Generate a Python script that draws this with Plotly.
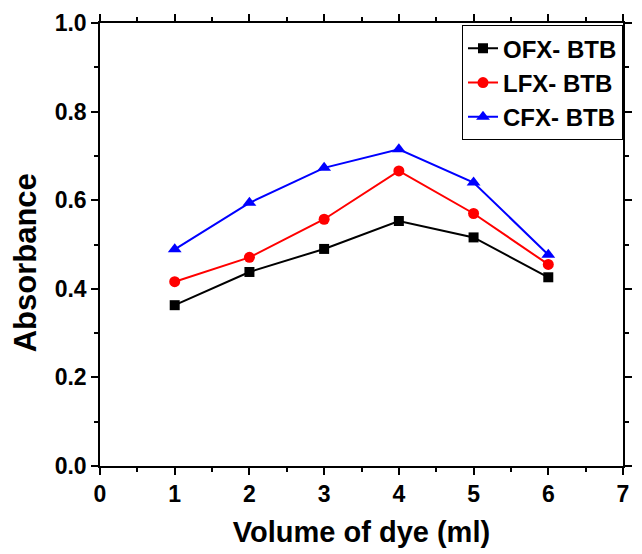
import plotly.graph_objects as go

volume = [1, 2, 3, 4, 5, 6]
ofx_btb = [0.363, 0.438, 0.490, 0.553, 0.516, 0.426]
lfx_btb = [0.416, 0.471, 0.557, 0.666, 0.570, 0.455]
cfx_btb = [0.489, 0.594, 0.673, 0.715, 0.640, 0.477]

series = [
    ("OFX- BTB", ofx_btb, "black", "square", 10),
    ("LFX- BTB", lfx_btb, "red", "circle", 11),
    ("CFX- BTB", cfx_btb, "blue", "triangle-up", 12),
]

fig = go.Figure()
for name, vals, color, sym, size in series:
    fig.add_trace(go.Scatter(
        x=volume, y=vals, name=name, mode="lines+markers",
        line=dict(color=color, width=2),
        marker=dict(color=color, symbol=sym, size=size),
    ))

font_family = "Arial, Liberation Sans, sans-serif"
fig.update_layout(
    width=642, height=554,
    margin=dict(l=100, r=10, t=23, b=88),
    paper_bgcolor="white", plot_bgcolor="white",
    font=dict(family=font_family, color="black"),
    showlegend=True,
    legend=dict(
        x=1.0, y=0.995, xanchor="right", yanchor="top",
        bordercolor="black", borderwidth=1, bgcolor="white",
        font=dict(size=24, family=font_family, weight="bold"),
        tracegroupgap=0,
    ),
)
fig.add_annotation(
    text="Absorbance", textangle=-90, showarrow=False,
    xref="paper", yref="paper", x=-0.143, y=0.458,
    xanchor="center", yanchor="middle",
    font=dict(size=31, family=font_family, weight="bold", color="black"),
)
fig.update_xaxes(
    range=[0, 7], dtick=1, tick0=0,
    showline=True, linecolor="black", linewidth=1.5, mirror="allticks",
    ticks="outside", ticklen=7, tickwidth=1.5, tickcolor="black",
    minor=dict(dtick=0.5, ticks="outside", ticklen=4, tickwidth=1.5, tickcolor="black"),
    showgrid=False, zeroline=False,
    tickfont=dict(size=23, family=font_family, weight="bold"),
    title=dict(text="Volume of dye (ml)", font=dict(size=29, family=font_family, weight="bold"), standoff=15),
)
fig.update_yaxes(
    range=[0, 1.0], dtick=0.2, tick0=0, tickformat=".1f",
    showline=True, linecolor="black", linewidth=1.5, mirror="allticks",
    ticks="outside", ticklen=7, tickwidth=1.5, tickcolor="black",
    minor=dict(dtick=0.1, ticks="outside", ticklen=4, tickwidth=1.5, tickcolor="black"),
    showgrid=False, zeroline=False,
    tickfont=dict(size=23, family=font_family, weight="bold"),
)

fig.write_html("out.html")
